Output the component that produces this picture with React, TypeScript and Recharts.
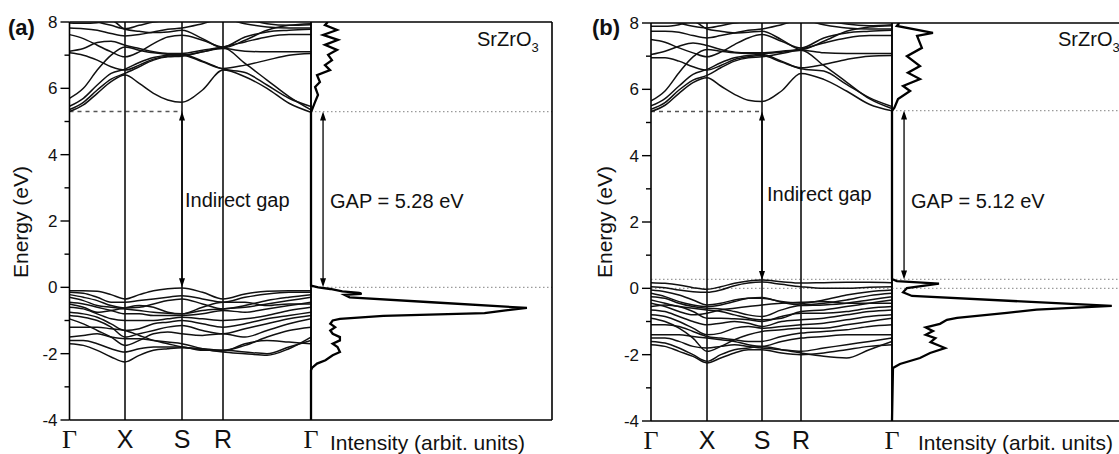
import React from 'react';
import { LineChart, Line, XAxis, YAxis, ReferenceLine } from 'recharts';

const FONT = '"Liberation Sans", Arial, Helvetica, sans-serif';
const SERIF = '"Liberation Serif", "Times New Roman", serif';

// high-symmetry path and axis ticks
const PATH_LABELS = ['Γ', 'X', 'S', 'R', 'Γ'];
const KPATH_A = [0, 0.555, 1.125, 1.535, 2.415];
const KPATH_B = [0, 0.56, 1.11, 1.5, 2.41];
const SEG_STEPS = [4, 4, 2, 4]; // samples per segment (Γ-X, X-S, S-R, R-Γ)
const ENERGY_TICKS = [-4, -3, -2, -1, 0, 1, 2, 3, 4, 5, 6, 7, 8];

// (a) bands, energies in eV at the sampled k-points
const VB_A = [
  [-0.1, -0.1, -0.12, -0.22, -0.35, -0.22, -0.1, -0.04, -0.02, -0.15, -0.35, -0.2, -0.12, -0.1, -0.1],
  [-0.15, -0.18, -0.3, -0.45, -0.45, -0.4, -0.35, -0.3, -0.25, -0.35, -0.45, -0.3, -0.2, -0.15, -0.15],
  [-0.22, -0.3, -0.4, -0.55, -0.62, -0.6, -0.5, -0.4, -0.35, -0.5, -0.65, -0.55, -0.4, -0.3, -0.22],
  [-0.3, -0.4, -0.55, -0.6, -0.65, -0.7, -0.75, -0.78, -0.8, -0.7, -0.65, -0.6, -0.5, -0.4, -0.3],
  [-0.45, -0.5, -0.6, -0.7, -0.8, -0.8, -0.85, -0.85, -0.85, -0.8, -0.7, -0.75, -0.65, -0.55, -0.45],
  [-0.5, -0.6, -0.75, -0.7, -0.62, -0.55, -0.6, -0.75, -0.8, -0.6, -0.45, -0.45, -0.55, -0.5, -0.5],
  [-0.6, -0.65, -0.8, -0.95, -1.0, -1.0, -1.0, -0.95, -0.9, -0.95, -1.0, -0.95, -0.85, -0.7, -0.6],
  [-0.75, -0.8, -0.9, -1.1, -1.3, -1.25, -1.1, -1.05, -1.0, -1.1, -1.2, -1.1, -0.95, -0.85, -0.75],
  [-0.85, -0.9, -1.0, -1.2, -1.5, -1.4, -1.3, -1.2, -1.15, -1.3, -1.4, -1.25, -1.1, -0.95, -0.85],
  [-0.95, -1.1, -1.3, -1.5, -1.75, -1.6, -1.4, -1.35, -1.4, -1.45, -1.4, -1.5, -1.3, -1.1, -0.95],
  [-1.2, -1.2, -1.2, -1.25, -1.3, -1.45, -1.6, -1.7, -1.8, -1.85, -1.9, -1.75, -1.5, -1.3, -1.2],
  [-1.5, -1.45, -1.4, -1.5, -1.55, -1.55, -1.6, -1.65, -1.7, -1.85, -1.95, -2.0, -2.05, -1.85, -1.5],
  [-1.6, -1.6, -1.7, -1.85, -1.95, -1.85, -1.8, -1.8, -1.8, -1.9, -1.9, -1.95, -2.0, -1.8, -1.6],
  [-1.7, -1.75, -1.9, -2.1, -2.25, -2.05, -1.9, -1.85, -1.82, -1.88, -1.92, -1.7, -1.6, -1.65, -1.7],
];
const CB_A = [
  [5.3, 5.5, 5.85, 6.2, 6.4, 6.15, 5.85, 5.65, 5.58, 5.95, 6.55, 6.35, 6.0, 5.55, 5.28],
  [5.36, 5.58, 5.95, 6.28, 6.45, 6.65, 6.85, 6.95, 6.97, 7.1, 7.22, 6.75, 6.25, 5.75, 5.35],
  [5.46, 5.7, 6.1, 6.45, 6.58, 6.78, 6.93, 7.0, 7.03, 6.82, 6.58, 6.48, 6.1, 5.7, 5.45],
  [5.7, 6.0, 6.55, 7.0, 7.25, 7.15, 7.07, 7.03, 7.0, 7.1, 7.2, 7.12, 7.1, 7.1, 7.1],
  [7.07, 7.0, 6.85, 6.65, 6.55, 6.7, 6.88, 6.97, 7.0, 6.8, 6.6, 6.7, 6.85, 7.0, 7.05],
  [7.12, 7.2, 7.38, 7.42, 7.3, 7.2, 7.1, 7.05, 7.05, 7.15, 7.25, 7.4, 7.55, 7.62, 7.62],
  [7.62, 7.5, 7.3, 7.1, 6.95, 7.1, 7.35, 7.55, 7.6, 7.45, 7.25, 7.55, 7.7, 7.75, 7.78],
  [7.82, 7.8, 7.75, 7.65, 7.58, 7.62, 7.7, 7.78, 7.82, 7.95, 8.1, 7.95, 7.85, 7.82, 7.82],
  [7.97, 7.96, 7.98, 8.05, 7.78, 7.72, 7.68, 7.7, 7.75, 7.5, 7.22, 7.45, 7.75, 7.9, 7.95],
  [8.2, 8.1, 8.0, 7.9, 7.8, 7.9, 8.0, 8.05, 8.1, 8.2, 8.3, 8.1, 7.95, 7.9, 7.92],
];

// (b) bands
const VB_B = [
  [0.17, 0.15, 0.1, 0.02, -0.03, 0.05, 0.15, 0.22, 0.25, 0.2, 0.16, 0.17, 0.18, 0.18, 0.17],
  [0.05, 0.02, -0.05, -0.1, -0.12, -0.05, 0.08, 0.16, 0.19, 0.12, 0.05, 0.0, 0.0, 0.03, 0.05],
  [-0.05, -0.1, -0.2, -0.35, -0.5, -0.45, -0.35, -0.3, -0.3, -0.4, -0.45, -0.35, -0.2, -0.1, -0.05],
  [-0.15, -0.25, -0.4, -0.5, -0.55, -0.5, -0.4, -0.3, -0.28, -0.42, -0.5, -0.45, -0.35, -0.22, -0.15],
  [-0.25, -0.3, -0.45, -0.55, -0.6, -0.62, -0.7, -0.8, -0.85, -0.65, -0.52, -0.5, -0.45, -0.35, -0.25],
  [-0.35, -0.45, -0.55, -0.6, -0.65, -0.7, -0.8, -0.9, -0.95, -0.9, -0.7, -0.65, -0.55, -0.45, -0.35],
  [-0.45, -0.55, -0.7, -0.8, -0.75, -0.65, -0.6, -0.55, -0.5, -0.45, -0.42, -0.4, -0.45, -0.45, -0.45],
  [-0.55, -0.5, -0.55, -0.7, -0.9, -0.9, -0.92, -0.95, -1.0, -0.85, -0.75, -0.75, -0.7, -0.6, -0.55],
  [-0.65, -0.7, -0.85, -1.0, -1.1, -1.05, -1.0, -1.05, -1.15, -1.0, -0.95, -0.9, -0.8, -0.7, -0.65],
  [-0.8, -0.85, -1.0, -1.2, -1.4, -1.35, -1.2, -1.15, -1.2, -1.15, -1.1, -1.05, -0.95, -0.85, -0.8],
  [-0.9, -1.0, -1.2, -1.5, -1.9, -1.75, -1.55, -1.4, -1.3, -1.25, -1.2, -1.2, -1.1, -1.0, -0.9],
  [-1.1, -1.1, -1.15, -1.3, -1.45, -1.5, -1.55, -1.6, -1.6, -1.45, -1.35, -1.3, -1.25, -1.15, -1.1],
  [-1.4, -1.4, -1.4, -1.45, -1.5, -1.55, -1.6, -1.7, -1.75, -1.6, -1.5, -1.45, -1.4, -1.4, -1.4],
  [-1.5, -1.5, -1.6, -1.75, -1.8, -1.75, -1.7, -1.75, -1.8, -1.85, -1.9, -1.8, -1.7, -1.6, -1.5],
  [-1.6, -1.65, -1.8, -2.0, -2.2, -2.0, -1.85, -1.8, -1.75, -1.85, -1.95, -2.05, -2.1, -1.85, -1.6],
  [-1.7, -1.75, -1.9, -2.05, -2.25, -2.1, -1.95, -1.85, -1.85, -1.95, -2.0, -1.95, -1.85, -1.75, -1.7],
];
const CB_B = [
  [5.33, 5.52, 5.88, 6.2, 6.35, 6.1, 5.85, 5.67, 5.63, 5.95, 6.48, 6.3, 5.95, 5.55, 5.35],
  [5.4, 5.6, 5.98, 6.28, 6.42, 6.65, 6.85, 6.95, 6.98, 7.08, 7.18, 6.72, 6.22, 5.72, 5.42],
  [5.5, 5.72, 6.1, 6.45, 6.6, 6.8, 6.95, 7.02, 7.05, 6.85, 6.62, 6.55, 6.15, 5.75, 5.48],
  [5.65, 5.95, 6.5, 6.98, 7.2, 7.15, 7.1, 7.08, 7.08, 7.12, 7.18, 7.1, 7.08, 7.08, 7.08],
  [6.95, 6.95, 6.85, 6.68, 6.58, 6.72, 6.9, 6.98, 7.02, 6.82, 6.65, 6.75, 6.9, 7.0, 7.02],
  [7.05, 7.15, 7.3, 7.4, 7.32, 7.2, 7.12, 7.1, 7.1, 7.15, 7.22, 7.4, 7.55, 7.62, 7.62],
  [7.5, 7.42, 7.25, 7.1, 6.98, 7.12, 7.35, 7.55, 7.65, 7.45, 7.25, 7.55, 7.7, 7.75, 7.78],
  [7.75, 7.75, 7.72, 7.62, 7.55, 7.62, 7.7, 7.78, 7.82, 7.95, 8.1, 7.95, 7.85, 7.82, 7.82],
  [7.9, 7.9, 7.95, 8.05, 7.82, 7.75, 7.7, 7.72, 7.75, 7.5, 7.2, 7.45, 7.75, 7.88, 7.92],
  [8.2, 8.1, 8.0, 7.9, 7.85, 7.92, 8.0, 8.05, 8.1, 8.2, 8.3, 8.1, 7.97, 7.92, 7.95],
];

// density of states, energy (eV) vs intensity (arb.)
const DOS_A_E = [8.0, 7.91, 7.76, 7.61, 7.46, 7.31, 7.16, 7.01, 6.85, 6.7, 6.55, 6.4, 6.19, 6.04, 5.8, 5.59, 5.35, 5.28,
  0.05, 0.0, -0.05, -0.12, -0.17, -0.2, -0.23, -0.3, -0.45, -0.62, -0.7, -0.78, -0.86, -0.95, -1.0, -1.1, -1.2, -1.3,
  -1.4, -1.5, -1.6, -1.7, -1.8, -1.95, -2.05, -2.2, -2.3, -2.42, -2.5, -4.0];
const DOS_A_I = [7, 5.8, 10.8, 5.0, 11.2, 5.8, 10.8, 7.1, 8.7, 5.8, 7.9, 2.5, 3.7, 1.7, 2.9, 1.7, 0.4, 0,
  0, 3, 8, 13, 20, 21, 14, 16, 50, 89.6, 80, 72, 30, 12, 9, 8, 10, 8,
  9, 12, 12, 9, 11, 12, 9, 6, 2.5, 0.5, 0, 0];
const DOS_B_E = [8.0, 7.91, 7.7, 7.61, 7.25, 7.0, 6.7, 6.5, 6.31, 6.1, 5.95, 5.71, 5.45, 5.35,
  0.28, 0.22, 0.14, 0.01, -0.12, -0.23, -0.53, -0.64, -0.74, -0.89, -0.95, -1.07, -1.18, -1.29, -1.4, -1.5,
  -1.62, -1.8, -1.95, -2.1, -2.28, -2.4, -4.0];
const DOS_B_I = [3, 2, 17, 10.4, 12.4, 6.2, 11.6, 6.6, 11.6, 4.6, 7.5, 2.5, 1, 0,
  0, 2, 19.5, 6.2, 4.6, 8.3, 91.2, 60, 47.7, 27, 22.8, 19.9, 14, 17, 14, 18,
  16, 22, 15.8, 11.6, 3.3, 0.4, 0];

function bandRows(path: number[], bands: number[][]) {
  const ks: number[] = [];
  SEG_STEPS.forEach((n, s) => {
    for (let i = 0; i < n; i++) ks.push(path[s] + ((path[s + 1] - path[s]) * i) / n);
  });
  ks.push(path[path.length - 1]);
  return ks.map((k, i) => {
    const row: any = { k };
    bands.forEach((b, j) => {
      row['b' + j] = b[i];
    });
    return row;
  });
}

const dosRows = (es: number[], is: number[]) => es.map((e, i) => ({ e, dos: is[i] }));

const GapArrow = (props: any) => {
  const { x1, y1, y2 } = props;
  const top = Math.min(y1, y2);
  const bot = Math.max(y1, y2);
  return (
    <g>
      <line x1={x1} x2={x1} y1={top + 3} y2={bot - 3} stroke="#000" strokeWidth={1.3} />
      <path d={`M${x1},${top} L${x1 - 3},${top + 9} L${x1 + 3},${top + 9} Z`} fill="#000" />
      <path d={`M${x1},${bot} L${x1 - 3},${bot - 9} L${x1 + 3},${bot - 9} Z`} fill="#000" />
    </g>
  );
};

const EnergyTick = (props: any) => {
  const { x, y, payload } = props;
  const v = payload.value;
  const axisX = x + 12;
  const major = v % 2 === 0;
  return (
    <g>
      <line x1={axisX - (major ? 9 : 5)} x2={axisX} y1={y} y2={y} stroke="#000" strokeWidth={1.4} />
      {major && (
        <text x={x} y={y + 6} textAnchor="end" fontSize={17} fontFamily={FONT} fill="#111">
          {v}
        </text>
      )}
    </g>
  );
};

const pathTick = (path: number[]) => (props: any) => {
  const { x, y, payload } = props;
  const i = path.findIndex((p) => Math.abs(p - payload.value) < 1e-6);
  const label = PATH_LABELS[i] ?? '';
  const serif = label === 'Γ';
  return (
    <text x={x} y={y + 28} textAnchor="middle" fontSize={serif ? 26 : 25} fontFamily={serif ? SERIF : FONT} fill="#111">
      {label}
    </text>
  );
};

interface BandProps {
  left: number;
  width: number;
  axisW: number;
  top: number;
  right: number;
  xh: number;
  path: number[];
  vb: number[][];
  cb: number[][];
  letter: string;
  vbm: number;
  cbm: number;
  extraDots: number[];
  labelX: number;
  textX: number;
  textY: number;
}

const BandPanel = (p: BandProps) => {
  const bands = [...p.vb, ...p.cb];
  const data = bandRows(p.path, bands);
  const kmax = p.path[4];
  return (
    <div style={{ position: 'absolute', left: p.left, top: 0 }}>
      <LineChart width={p.width} height={454} data={data} margin={{ top: p.top, right: p.right, left: 0, bottom: 0 }}>
        <XAxis
          type="number"
          dataKey="k"
          domain={[0, kmax]}
          ticks={p.path}
          interval={0}
          tick={pathTick(p.path)}
          tickLine={false}
          tickSize={0}
          tickMargin={0}
          height={p.xh}
          axisLine={{ stroke: '#000', strokeWidth: 1.6 }}
          allowDataOverflow
        />
        <YAxis
          type="number"
          domain={[-4, 8]}
          ticks={ENERGY_TICKS}
          interval={0}
          tick={<EnergyTick />}
          tickLine={false}
          tickSize={9}
          tickMargin={3}
          width={p.axisW}
          axisLine={{ stroke: '#000', strokeWidth: 1.6 }}
          allowDataOverflow
        />
        {p.extraDots.map((y) => (
          <ReferenceLine key={'d' + y} y={y} stroke="#9a9a9a" strokeDasharray="1.5 2.5" strokeWidth={1.2} />
        ))}
        <ReferenceLine
          segment={[{ x: 0, y: p.cbm }, { x: p.path[2], y: p.cbm }]}
          stroke="#555"
          strokeDasharray="4 4"
          strokeWidth={1.6}
        />
        {[p.path[1], p.path[2], p.path[3], kmax].map((k) => (
          <ReferenceLine key={'k' + k} x={k} stroke="#000" strokeWidth={1.5} />
        ))}
        <ReferenceLine y={8} stroke="#000" strokeWidth={1.6} />
        {bands.map((_, j) => (
          <Line
            key={j}
            dataKey={'b' + j}
            type="monotone"
            stroke="#111"
            strokeWidth={1.5}
            dot={false}
            activeDot={false}
            isAnimationActive={false}
          />
        ))}
        <ReferenceLine
          segment={[{ x: p.path[2], y: p.vbm }, { x: p.path[2], y: p.cbm }]}
          shape={GapArrow}
        />
        <text x={p.labelX} y={35} fontSize={22} fontWeight="bold" fontFamily={FONT} fill="#111">
          {p.letter}
        </text>
        <text
          x={p.labelX + 20}
          y={222}
          transform={`rotate(-90, ${p.labelX + 20}, 222)`}
          textAnchor="middle"
          fontSize={21}
          fontFamily={FONT}
          fill="#111"
        >
          Energy (eV)
        </text>
        <text x={p.textX} y={p.textY} fontSize={20} fontFamily={FONT} fill="#111">
          Indirect gap
        </text>
      </LineChart>
    </div>
  );
};

interface DosProps {
  left: number;
  top: number;
  xh: number;
  es: number[];
  is: number[];
  vbm: number;
  cbm: number;
  dots: number[];
  gapText: string;
  textX: number;
}

const DosPanel = (p: DosProps) => {
  const data = dosRows(p.es, p.is);
  return (
    <div style={{ position: 'absolute', left: p.left, top: 0 }}>
      <LineChart width={260} height={454} data={data} margin={{ top: p.top, right: 8, left: 11, bottom: 0 }}>
        <XAxis
          type="number"
          dataKey="dos"
          domain={[0, 100]}
          tick={false}
          tickLine={false}
          height={p.xh}
          axisLine={{ stroke: '#000', strokeWidth: 1.6 }}
        />
        <YAxis type="number" domain={[-4, 8]} hide width={0} allowDataOverflow />
        {p.dots.map((y) => (
          <ReferenceLine key={'d' + y} y={y} stroke="#9a9a9a" strokeDasharray="1.5 2.5" strokeWidth={1.2} />
        ))}
        <ReferenceLine x={0} stroke="#000" strokeWidth={1.6} />
        <ReferenceLine x={100} stroke="#000" strokeWidth={1.6} />
        <ReferenceLine y={8} stroke="#000" strokeWidth={1.6} />
        <Line
          dataKey="e"
          type="linear"
          stroke="#000"
          strokeWidth={2.3}
          dot={false}
          activeDot={false}
          isAnimationActive={false}
        />
        <ReferenceLine segment={[{ x: 5, y: p.vbm }, { x: 5, y: p.cbm }]} shape={GapArrow} />
        <text x={30} y={208} fontSize={20} fontFamily={FONT} fill="#111">
          {p.gapText}
        </text>
        <text x={177} y={46} fontSize={20} fontFamily={FONT} fill="#111">
          SrZrO
          <tspan dy={6} fontSize={13}>
            3
          </tspan>
        </text>
        <text x={p.textX} y={450} fontSize={21} fontFamily={FONT} fill="#111">
          Intensity (arbit. units)
        </text>
      </LineChart>
    </div>
  );
};

export default function App() {
  return (
    <div
      style={{
        position: 'absolute',
        left: 0,
        top: 0,
        width: 1119,
        height: 454,
        overflow: 'hidden',
        background: '#fff',
      }}
    >
      <BandPanel
        left={0}
        width={320}
        axisW={69.5}
        top={22}
        right={9}
        xh={34}
        path={KPATH_A}
        vb={VB_A}
        cb={CB_A}
        letter="(a)"
        vbm={0}
        cbm={5.3}
        extraDots={[]}
        labelX={8}
        textX={185}
        textY={207}
      />
      <DosPanel left={300} top={22} xh={34} es={DOS_A_E} is={DOS_A_I} vbm={0} cbm={5.3} dots={[5.3, 0]} gapText="GAP = 5.28 eV" textX={30} />
      <BandPanel
        left={560}
        width={340}
        axisW={91}
        top={23}
        right={8}
        xh={33}
        path={KPATH_B}
        vb={VB_B}
        cb={CB_B}
        letter="(b)"
        vbm={0.25}
        cbm={5.33}
        extraDots={[0.27, 0]}
        labelX={32}
        textX={207}
        textY={201}
      />
      <DosPanel left={881} top={23} xh={33} es={DOS_B_E} is={DOS_B_I} vbm={0.27} cbm={5.36} dots={[5.36, 0.27, 0]} gapText="GAP = 5.12 eV" textX={37} />
    </div>
  );
}
